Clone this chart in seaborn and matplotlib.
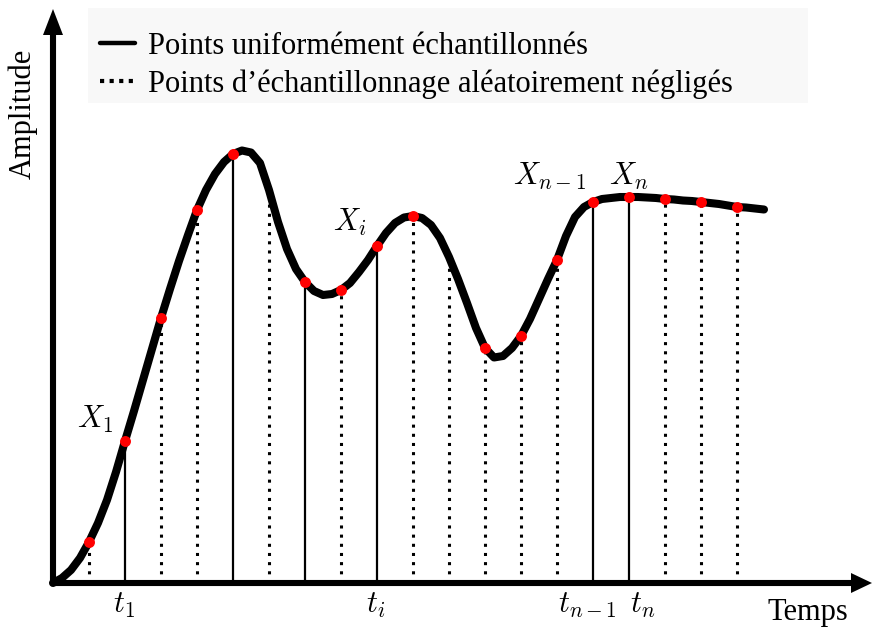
import numpy as np
import pandas as pd
import matplotlib
matplotlib.use("Agg")
import matplotlib.pyplot as plt
import seaborn as sns
from matplotlib.lines import Line2D
from matplotlib.patches import Rectangle

# ---------------- data ----------------
curve_time = [0.00, 0.25, 0.50, 0.75, 1.00, 1.25, 1.50, 1.75, 2.00, 2.25,
              2.50, 2.75, 3.00, 3.25, 3.50, 3.75, 4.00, 4.25, 4.50, 4.75,
              5.00, 5.25, 5.50, 5.75, 6.00, 6.25, 6.50, 6.75, 7.00, 7.25,
              7.50, 7.75, 8.00, 8.25, 8.50, 8.75, 9.00, 9.25, 9.50, 9.75,
              10.00, 10.25, 10.50, 10.75, 11.00, 11.25, 11.50, 11.75, 12.00, 12.25,
              12.50, 12.75, 13.00, 13.25, 13.50, 13.75, 14.00, 14.25, 14.50, 14.75,
              15.00, 15.25, 15.50, 15.75, 16.00, 16.25, 16.50, 16.75, 17.00, 17.25,
              17.50, 17.75, 18.00, 18.25, 18.50, 18.75, 19.00, 19.25, 19.50, 19.75]
curve_amplitude = [0.00, 0.05, 0.13, 0.25, 0.41, 0.60, 0.83, 1.11, 1.42, 1.72,
                   2.03, 2.34, 2.65, 2.94, 3.22, 3.48, 3.73, 3.93, 4.09, 4.21,
                   4.29, 4.325, 4.305, 4.20, 3.93, 3.61, 3.34, 3.14, 3.01, 2.92,
                   2.88, 2.89, 2.93, 3.00, 3.11, 3.23, 3.37, 3.50, 3.60, 3.655,
                   3.67, 3.65, 3.58, 3.45, 3.26, 3.04, 2.80, 2.55, 2.35, 2.255,
                   2.27, 2.35, 2.47, 2.64, 2.84, 3.04, 3.23, 3.47, 3.66, 3.76,
                   3.81, 3.84, 3.85, 3.86, 3.86, 3.86, 3.855, 3.85, 3.84, 3.835,
                   3.825, 3.82, 3.81, 3.80, 3.79, 3.775, 3.76, 3.755, 3.745, 3.735]

sample_time = [1, 2, 3, 4, 5, 6, 7, 8, 9, 10, 11, 12, 13, 14, 15, 16, 17, 18, 19]
sample_amplitude = [0.41, 1.42, 2.65, 3.73, 4.29, 3.93, 3.01, 2.93, 3.37, 3.67,
                    3.26, 2.35, 2.47, 3.23, 3.81, 3.86, 3.84, 3.81, 3.76]
sample_uniform = [False, True, False, False, True, False, True, False, True, False,
                  False, False, False, False, True, True, False, False, False]
sample_marked = [True, True, True, True, True, False, True, True, True, True,
                 False, True, True, True, True, True, True, True, True]

point_labels = [r"$X_1$", r"$X_i$", r"$X_{n-1}$", r"$X_n$"]
time_labels = [r"$t_1$", r"$t_i$", r"$t_{n-1}$", r"$t_n$"]
legend_labels = ["Points uniformément échantillonnés",
                 "Points d’échantillonnage aléatoirement négligés"]
x_title = "Temps"
y_title = "Amplitude"

# ---------------- style ----------------
sns.set_theme(style="white")
plt.rcParams["font.family"] = ["Liberation Serif", "DejaVu Serif"]
plt.rcParams["mathtext.fontset"] = "cm"
plt.rcParams["text.color"] = "black"

W, H = 873, 628
X0, Y0, SX, SY = 53, 583, 36, 100   # pixel position of origin and scale


def px(x, y):
    """pixel position -> data position (for layout of annotations)"""
    return (x - X0) / SX, (Y0 - y) / SY


fig = plt.figure(figsize=(W / 100, H / 100), dpi=100)
ax = fig.add_axes([0, 0, 1, 1])
ax.set_xlim(px(0, 0)[0], px(W, 0)[0])
ax.set_ylim(px(0, H)[1], px(0, 0)[1])
ax.axis("off")

df = pd.DataFrame({"t": sample_time, "a": sample_amplitude,
                   "uniform": sample_uniform, "marked": sample_marked})

# vertical sample lines
u = df[df.uniform]
n = df[~df.uniform]
ax.vlines(u.t, 0, u.a, colors="black", linewidth=1.6, zorder=2)
ax.vlines(n.t, 0, n.a, colors="black", linewidth=2.2,
          linestyles=[(0, (1, 2))], zorder=2)

# curve
sns.lineplot(x=curve_time, y=curve_amplitude, color="black", linewidth=5.8,
             sort=False, estimator=None, ax=ax, zorder=3,
             solid_capstyle="round", solid_joinstyle="round")

# red sample dots
m = df[df.marked]
sns.scatterplot(x=m.t, y=m.a, color="red", s=62, linewidth=0, ax=ax, zorder=4)

# axes with arrows
ax.plot([0, px(856, 0)[0]], [0, 0], color="black", linewidth=4.4,
        solid_capstyle="round", zorder=5)
ax.plot([0, 0], [0, px(0, 30)[1]], color="black", linewidth=4.4,
        solid_capstyle="round", zorder=5)
hx = [px(872, 583), px(851, 573), px(851, 593)]
hy = [px(53, 9), px(43, 35), px(63, 35)]
ax.fill([p[0] for p in hx], [p[1] for p in hx], color="black", lw=0, zorder=5)
ax.fill([p[0] for p in hy], [p[1] for p in hy], color="black", lw=0, zorder=5)

# axis titles
ax.text(*px(768, 620), x_title, fontsize=22, ha="left", va="baseline", color="black")
ax.text(*px(23, 114), y_title, fontsize=22, rotation=90, ha="center", va="center",
        color="black")

# point / time labels
label_pos = [(77, 428), (333, 231), (513, 185), (609, 185)]
time_pos = [(113, 613), (366, 613), (558, 613), (630, 613)]
for s, p in zip(point_labels, label_pos):
    ax.text(*px(*p), s, fontsize=22, ha="left", va="baseline", color="black")
for s, p in zip(time_labels, time_pos):
    ax.text(*px(*p), s, fontsize=22, ha="left", va="baseline", color="black")

# legend background and legend
x1, y1 = px(88, 103)
x2, y2 = px(808, 8)
ax.add_patch(Rectangle((x1, y1), x2 - x1, y2 - y1, facecolor="#f8f8f8",
                       edgecolor="none", zorder=1))
handles = [Line2D([], [], color="black", linewidth=3.2),
           Line2D([], [], color="black", linewidth=3.0, linestyle=(0, (1, 1.3)))]
leg = ax.legend(handles, legend_labels, loc="upper left",
                bbox_to_anchor=(100 / W, 1 - 32 / H), bbox_transform=fig.transFigure,
                frameon=False, borderpad=0, borderaxespad=0, handlelength=1.15,
                handletextpad=0.43, labelspacing=0.28, fontsize=22)
for t in leg.get_texts():
    t.set_color("black")

fig.savefig("out.png", dpi=100)
